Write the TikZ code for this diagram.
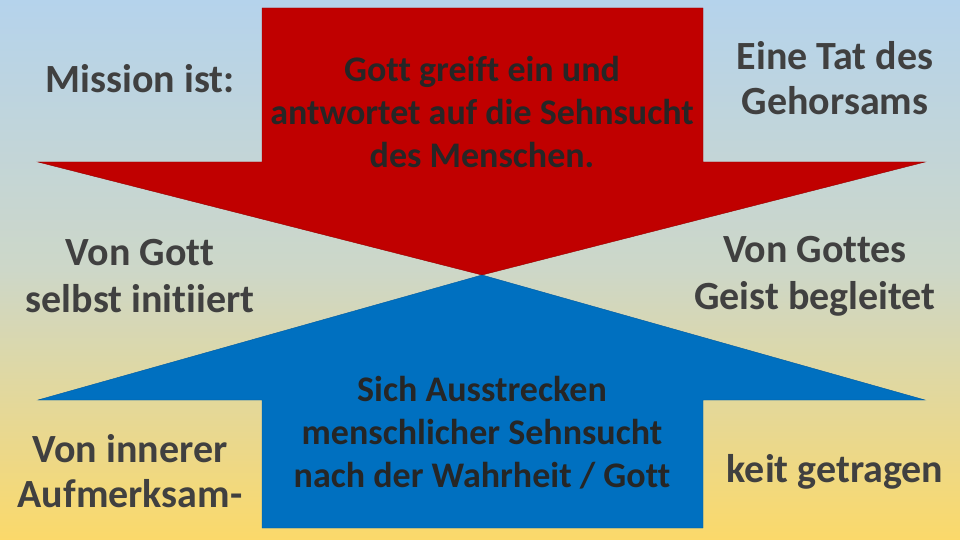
\documentclass[tikz,border=0pt]{standalone}
\usepackage{fontspec}
\setmainfont[Ligatures={NoCommon}]{Carlito}
\begin{document}
\begin{tikzpicture}[x=1pt,y=-1pt,
  lbl/.style={align=center,font=\bfseries\fontsize{40}{47}\selectfont,text=black!75,inner sep=0},
  inl/.style={align=center,font=\bfseries\fontsize{36}{43}\selectfont,text=black!85,inner sep=0}]
\shade[top color={rgb,255:red,181;green,211;blue,236},bottom color={rgb,255:red,251;green,217;blue,106},middle color={rgb,255:red,205;green,215;blue,200}] (0,0) rectangle (960,540);
\useasboundingbox (0,0) rectangle (960,540);
\fill[fill={rgb,255:red,192;green,0;blue,0},draw={rgb,255:red,150;green,0;blue,0}] (262,8) -- (703,8) -- (703,162) -- (925,162) -- (482,275) -- (38,162) -- (262,162) -- cycle;
\fill[fill={rgb,255:red,0;green,112;blue,192},draw={rgb,255:red,0;green,90;blue,160}] (482,275) -- (925,400) -- (703,400) -- (703,528) -- (262,528) -- (262,400) -- (38,400) -- cycle;
\node[lbl,font=\bfseries\fontsize{40}{44}\selectfont] (m) at (140,79) {Mission ist:};
\node[inl] (r) at (482,112) {Gott greift ein und\\antwortet auf die Sehnsucht\\des Menschen.};
\node[lbl,font=\bfseries\fontsize{40}{45}\selectfont] (e) at (835,78) {Eine Tat des\\Gehorsams};
\node[lbl] (g) at (140,276) {Von Gott\\selbst initiiert};
\node[lbl] (gg) at (815,276) {Von Gottes\\Geist begleitet};
\node[inl] (b) at (482,433) {Sich Ausstrecken\\menschlicher Sehnsucht\\nach der Wahrheit / Gott};
\node[lbl,font=\bfseries\fontsize{40}{45}\selectfont] (i) at (130,471) {Von innerer\\Aufmerksam-};
\node[lbl] (k) at (835,472) {keit getragen};
\end{tikzpicture}
\end{document}
